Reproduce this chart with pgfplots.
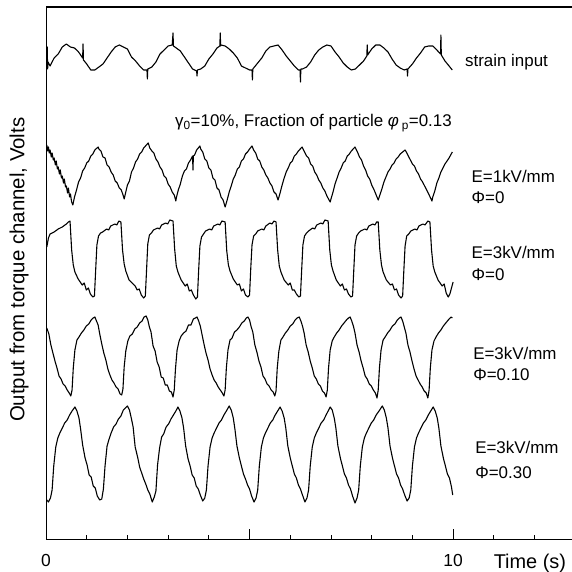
\documentclass[border=0pt]{standalone}
\usepackage{pgfplots}
\pgfplotsset{compat=1.18}
\usepackage{fontspec}
\setmainfont{Liberation Sans}
\newcommand{\fs}{\fontsize{17}{20}\selectfont}
\begin{document}
\begin{tikzpicture}
\begin{axis}[
  name=ax,
  width=526bp, height=532bp, scale only axis,
  xmin=0, xmax=12.92, ymin=-539, ymax=-7,
  axis x line=box, axis y line=left,
  axis line style={-, line width=0.9bp, black},
  xtick={0,5,10}, xticklabels={0,,10},
  minor xtick={1,2,3,4,6,7,8,9,11,12},
  xtick pos=left, xticklabel pos=left,
  tick align=inside,
  major tick length=10bp, minor tick length=4bp,
  tick style={black, line width=0.8bp},
  ytick=\empty,
  /pgf/number format/assume math mode=true,
  xticklabel style={font=\fontsize{17.5}{20}\selectfont, anchor=center, yshift=-21bp},
  every axis y label/.style={at={(axis description cs:-0.0513,0.506)}, rotate=90, anchor=center},
  ylabel={\fontsize{20.5}{24}\selectfont Output from torque channel, Volts},
  every axis x label/.style={at={(axis description cs:0.920,-0.045)}, anchor=center},
  xlabel={\fontsize{20}{24}\selectfont Time (s)},
  clip=false, no markers,
]
% strain input
\addplot[black, line width=1.1bp, line join=round] coordinates {
(0.02,-63) (0.03,-47) (0.04,-69) (0.05,-62) (0.1,-66) (0.2,-58) (0.3,-54) (0.4,-47) (0.5,-44) (0.6,-47) (0.7,-48) (0.8,-52) (0.9,-58) (0.91,-44) (0.92,-60) (1.0,-64) (1.1,-70) (1.2,-70) (1.3,-67) (1.4,-64) (1.5,-58) (1.6,-52) (1.7,-47) (1.8,-45) (1.9,-47) (2.0,-49) (2.1,-57) (2.2,-61) (2.3,-66) (2.4,-70) (2.48,-70) (2.49,-79) (2.5,-69) (2.6,-67) (2.7,-62) (2.8,-54) (2.9,-50) (3.0,-46) (3.1,-45) (3.12,-33) (3.13,-46) (3.2,-48) (3.3,-51) (3.4,-57) (3.5,-63) (3.6,-69) (3.7,-71) (3.71,-76) (3.72,-70) (3.8,-69) (3.9,-66) (4.0,-59) (4.1,-54) (4.2,-48) (4.27,-46) (4.28,-33) (4.29,-46) (4.3,-45) (4.4,-46) (4.5,-49) (4.6,-53) (4.7,-58) (4.8,-66) (4.9,-68) (5.0,-70) (5.06,-70) (5.07,-80) (5.08,-69) (5.1,-68) (5.2,-63) (5.3,-58) (5.4,-51) (5.5,-47) (5.6,-46) (5.7,-45) (5.8,-50) (5.9,-56) (6.0,-61) (6.1,-66) (6.2,-70) (6.24,-70) (6.25,-82) (6.26,-69) (6.3,-69) (6.4,-67) (6.5,-62) (6.6,-55) (6.7,-50) (6.8,-47) (6.9,-45) (7.0,-46) (7.1,-52) (7.2,-57) (7.3,-63) (7.4,-67) (7.5,-70) (7.6,-69) (7.7,-65) (7.8,-61) (7.88,-56) (7.89,-45) (7.9,-55) (8.0,-49) (8.1,-45) (8.2,-45) (8.3,-48) (8.4,-52) (8.5,-59) (8.6,-65) (8.7,-68) (8.8,-70) (8.87,-69) (8.88,-76) (8.89,-69) (9.0,-64) (9.1,-58) (9.2,-53) (9.3,-47) (9.4,-46) (9.5,-46) (9.6,-50) (9.69,-54) (9.7,-35) (9.71,-55) (9.8,-61) (9.9,-66) (9.98,-70)
};
% E=1kV/mm, Phi=0
\addplot[black, line width=1.1bp, line join=round] coordinates {
(0.02,-145) (0.04,-151) (0.06,-147) (0.08,-153) (0.1,-150) (0.13,-157) (0.15,-153) (0.18,-160) (0.2,-158) (0.23,-165) (0.25,-161) (0.28,-169) (0.3,-167) (0.33,-174) (0.35,-170) (0.38,-178) (0.4,-176) (0.43,-183) (0.45,-179) (0.48,-187) (0.5,-186) (0.53,-193) (0.55,-188) (0.58,-197) (0.6,-194) (0.63,-202) (0.66,-205) (0.7,-197) (0.75,-190) (0.8,-182) (0.85,-178) (0.9,-171) (0.95,-168) (1.0,-163) (1.05,-161) (1.1,-156) (1.15,-154) (1.2,-150) (1.28,-147) (1.3,-149) (1.35,-151) (1.4,-157) (1.45,-158) (1.5,-165) (1.55,-167) (1.6,-172) (1.65,-175) (1.7,-181) (1.75,-183) (1.8,-188) (1.85,-190) (1.9,-196) (1.92,-199) (2.0,-185) (2.05,-181) (2.1,-172) (2.15,-168) (2.2,-162) (2.25,-159) (2.3,-154) (2.35,-152) (2.4,-148) (2.51,-143) (2.55,-148) (2.6,-151) (2.65,-153) (2.7,-159) (2.75,-162) (2.8,-167) (2.85,-170) (2.9,-176) (2.95,-178) (3.0,-184) (3.05,-187) (3.1,-192) (3.15,-195) (3.19,-201) (3.2,-198) (3.25,-190) (3.3,-184) (3.35,-176) (3.4,-171) (3.45,-169) (3.5,-163) (3.55,-160) (3.6,-156) (3.61,-170) (3.62,-156) (3.65,-155) (3.7,-150) (3.78,-146) (3.8,-149) (3.85,-152) (3.9,-159) (3.95,-161) (4.0,-168) (4.05,-170) (4.1,-178) (4.15,-180) (4.2,-188) (4.25,-190) (4.3,-197) (4.35,-200) (4.4,-207) (4.45,-200) (4.5,-192) (4.55,-186) (4.6,-179) (4.65,-175) (4.7,-169) (4.75,-167) (4.8,-161) (4.85,-159) (4.9,-154) (4.95,-152) (5.0,-149) (5.06,-146) (5.1,-150) (5.15,-153) (5.2,-159) (5.25,-161) (5.3,-167) (5.35,-170) (5.4,-175) (5.45,-178) (5.5,-183) (5.55,-186) (5.6,-192) (5.65,-194) (5.7,-200) (5.75,-193) (5.8,-185) (5.85,-178) (5.9,-172) (5.95,-168) (6.0,-163) (6.05,-161) (6.1,-156) (6.15,-154) (6.2,-151) (6.29,-147) (6.35,-152) (6.4,-156) (6.45,-158) (6.5,-164) (6.55,-166) (6.6,-172) (6.65,-175) (6.7,-180) (6.75,-183) (6.8,-188) (6.85,-191) (6.9,-196) (6.98,-202) (7.0,-199) (7.05,-192) (7.1,-184) (7.15,-178) (7.2,-172) (7.25,-168) (7.3,-163) (7.35,-161) (7.4,-156) (7.45,-154) (7.5,-151) (7.59,-147) (7.65,-152) (7.7,-157) (7.75,-160) (7.8,-166) (7.85,-170) (7.9,-176) (7.95,-179) (8.0,-185) (8.05,-189) (8.1,-194) (8.16,-200) (8.2,-195) (8.25,-189) (8.3,-182) (8.35,-177) (8.4,-172) (8.45,-169) (8.5,-165) (8.55,-163) (8.6,-159) (8.65,-157) (8.7,-154) (8.82,-150) (8.85,-152) (8.9,-156) (8.95,-160) (9.0,-164) (9.05,-166) (9.1,-171) (9.15,-174) (9.2,-179) (9.25,-182) (9.3,-186) (9.35,-190) (9.4,-194) (9.48,-201) (9.5,-197) (9.55,-191) (9.6,-183) (9.65,-178) (9.7,-172) (9.75,-168) (9.8,-164) (9.85,-161) (9.9,-158) (9.98,-152)
};
% E=3kV/mm, Phi=0
\addplot[black, line width=1.1bp, line join=round] coordinates {
(0.02,-247) (0.06,-238) (0.1,-234) (0.2,-232) (0.3,-229) (0.4,-227) (0.5,-224) (0.55,-222)
(0.59,-221) (0.63,-250) (0.67,-265) (0.71,-272) (0.79,-279) (0.89,-285) (0.94,-283) (0.99,-290) (1.04,-288) (1.09,-294) (1.15,-297) (1.19,-296) (1.22,-270) (1.25,-245) (1.29,-236) (1.34,-233) (1.39,-232) (1.49,-229) (1.54,-230) (1.59,-226) (1.69,-224) (1.74,-225) (1.79,-221)
(1.84,-222) (1.88,-250) (1.92,-264) (1.96,-271) (2.04,-280) (2.14,-284) (2.19,-286) (2.24,-290) (2.29,-289) (2.34,-295) (2.40,-298) (2.44,-296) (2.47,-270) (2.50,-244) (2.54,-235) (2.59,-233) (2.64,-230) (2.74,-228) (2.79,-229) (2.84,-225) (2.94,-223) (2.99,-224) (3.04,-220)
(3.12,-221) (3.16,-249) (3.20,-266) (3.24,-272) (3.32,-280) (3.42,-286) (3.47,-284) (3.52,-291) (3.57,-290) (3.62,-295) (3.68,-299) (3.72,-297) (3.75,-270) (3.78,-246) (3.82,-237) (3.87,-234) (3.92,-231) (4.02,-229) (4.07,-230) (4.12,-226) (4.22,-224) (4.27,-225) (4.32,-221)
(4.40,-222) (4.44,-251) (4.48,-265) (4.52,-271) (4.60,-279) (4.70,-285) (4.75,-284) (4.80,-291) (4.85,-289) (4.90,-295) (4.96,-297) (5.00,-295) (5.03,-268) (5.06,-245) (5.10,-236) (5.15,-234) (5.20,-231) (5.30,-229) (5.35,-230) (5.40,-226) (5.50,-223) (5.55,-224) (5.60,-221)
(5.65,-222) (5.69,-250) (5.73,-266) (5.77,-272) (5.85,-280) (5.95,-285) (6.00,-283) (6.05,-290) (6.10,-290) (6.15,-294) (6.21,-297) (6.25,-296) (6.28,-270) (6.31,-245) (6.35,-236) (6.40,-233) (6.45,-231) (6.55,-228) (6.60,-229) (6.65,-225) (6.75,-223) (6.80,-224) (6.85,-220)
(6.93,-221) (6.97,-250) (7.01,-265) (7.05,-271) (7.13,-280) (7.23,-286) (7.28,-284) (7.33,-290) (7.38,-289) (7.43,-294) (7.49,-297) (7.53,-296) (7.56,-270) (7.59,-245) (7.63,-236) (7.68,-233) (7.73,-231) (7.83,-229) (7.88,-230) (7.93,-226) (8.03,-224) (8.08,-225) (8.12,-222)
(8.16,-222) (8.20,-250) (8.24,-265) (8.28,-272) (8.36,-280) (8.46,-285) (8.51,-284) (8.56,-290) (8.61,-289) (8.66,-295) (8.72,-298) (8.76,-296) (8.79,-270) (8.82,-246) (8.86,-236) (8.91,-234) (8.96,-231) (9.06,-229) (9.11,-230) (9.16,-226) (9.26,-224) (9.31,-225) (9.38,-221)
(9.43,-222) (9.47,-250) (9.51,-266) (9.55,-272) (9.63,-280) (9.73,-286) (9.78,-284) (9.83,-293) (9.88,-297) (9.92,-294) (9.96,-288) (10.0,-282)
};
% E=3kV/mm, Phi=0.10
\addplot[black, line width=1.1bp, line join=round] coordinates {
(0.02,-328) (0.07,-334) (0.12,-345) (0.17,-353) (0.22,-361) (0.27,-368) (0.32,-376) (0.37,-379) (0.42,-384) (0.47,-386) (0.52,-390) (0.57,-393) (0.61,-396) (0.64,-390) (0.67,-368) (0.71,-350) (0.76,-340) (0.81,-337) (0.87,-333) (0.93,-330) (0.99,-326) (1.05,-324) (1.11,-320) (1.16,-318)
(1.20,-317) (1.24,-321) (1.28,-325) (1.32,-334) (1.37,-344) (1.42,-353) (1.47,-360) (1.52,-369) (1.57,-375) (1.62,-380) (1.67,-383) (1.72,-387) (1.77,-389) (1.82,-394) (1.86,-395) (1.89,-389) (1.92,-367) (1.96,-351) (2.01,-341) (2.06,-336) (2.12,-334) (2.18,-329) (2.24,-327) (2.30,-323) (2.36,-321) (2.41,-317)
(2.46,-316) (2.50,-320) (2.54,-327) (2.58,-332) (2.63,-346) (2.68,-351) (2.73,-362) (2.78,-367) (2.83,-377) (2.88,-378) (2.93,-385) (2.98,-385) (3.03,-391) (3.08,-392) (3.12,-397) (3.15,-390) (3.18,-369) (3.22,-350) (3.27,-341) (3.32,-336) (3.38,-333) (3.44,-331) (3.50,-325) (3.56,-325) (3.62,-319) (3.67,-318)
(3.71,-317) (3.75,-321) (3.79,-326) (3.83,-334) (3.88,-344) (3.93,-353) (3.98,-360) (4.03,-369) (4.08,-375) (4.13,-380) (4.18,-383) (4.23,-387) (4.28,-390) (4.33,-393) (4.37,-396) (4.40,-390) (4.43,-368) (4.47,-350) (4.52,-340) (4.57,-338) (4.63,-332) (4.69,-330) (4.75,-327) (4.81,-323) (4.87,-321) (4.92,-318)
(4.96,-317) (5.00,-320) (5.04,-327) (5.08,-332) (5.13,-345) (5.18,-352) (5.23,-361) (5.28,-367) (5.33,-376) (5.38,-379) (5.43,-384) (5.48,-386) (5.53,-390) (5.58,-392) (5.62,-396) (5.65,-391) (5.68,-368) (5.72,-351) (5.77,-340) (5.82,-337) (5.88,-333) (5.94,-330) (6.00,-326) (6.06,-324) (6.12,-320) (6.17,-318)
(6.22,-317) (6.26,-321) (6.30,-326) (6.34,-333) (6.39,-345) (6.44,-352) (6.49,-361) (6.54,-368) (6.59,-376) (6.64,-379) (6.69,-384) (6.74,-386) (6.79,-391) (6.84,-393) (6.88,-397) (6.91,-390) (6.94,-368) (6.98,-350) (7.03,-341) (7.08,-337) (7.14,-333) (7.20,-330) (7.26,-326) (7.32,-323) (7.38,-320) (7.43,-318)
(7.47,-317) (7.51,-321) (7.55,-326) (7.59,-333) (7.64,-345) (7.69,-352) (7.74,-361) (7.79,-368) (7.84,-376) (7.89,-379) (7.94,-384) (7.99,-386) (8.04,-390) (8.09,-393) (8.13,-398) (8.16,-390) (8.19,-368) (8.23,-350) (8.28,-340) (8.33,-337) (8.39,-333) (8.45,-330) (8.51,-326) (8.57,-324) (8.63,-320) (8.68,-318)
(8.72,-317) (8.76,-321) (8.80,-327) (8.84,-333) (8.89,-345) (8.94,-352) (8.99,-361) (9.04,-369) (9.09,-376) (9.14,-380) (9.19,-384) (9.24,-387) (9.29,-391) (9.34,-393) (9.38,-398) (9.41,-390) (9.44,-368) (9.48,-350) (9.53,-341) (9.58,-337) (9.64,-333) (9.70,-330) (9.76,-326) (9.82,-323) (9.88,-320) (9.95,-317) (9.98,-318)
};
% E=3kV/mm, Phi=0.30
\addplot[black, line width=1.1bp, line join=round] coordinates {
(0.02,-500) (0.06,-502) (0.11,-498) (0.15,-490) (0.19,-466) (0.24,-447) (0.29,-438) (0.34,-433) (0.40,-428) (0.46,-423) (0.52,-420) (0.58,-415) (0.64,-411)
(0.71,-407) (0.76,-411) (0.81,-418) (0.85,-429) (0.90,-445) (0.96,-458) (1.01,-465) (1.06,-475) (1.11,-477) (1.16,-486) (1.21,-488) (1.26,-496) (1.32,-500) (1.37,-499) (1.41,-489) (1.45,-466) (1.50,-446) (1.55,-439) (1.60,-433) (1.66,-427) (1.72,-424) (1.78,-419) (1.84,-416) (1.90,-410)
(2.00,-406) (2.05,-410) (2.10,-419) (2.14,-427) (2.19,-447) (2.25,-457) (2.30,-467) (2.35,-473) (2.40,-479) (2.45,-484) (2.50,-490) (2.55,-494) (2.61,-502) (2.66,-497) (2.70,-491) (2.74,-465) (2.79,-448) (2.84,-437) (2.89,-434) (2.95,-427) (3.01,-424) (3.07,-419) (3.13,-415) (3.19,-411)
(3.24,-407) (3.29,-411) (3.34,-418) (3.38,-428) (3.43,-446) (3.49,-459) (3.54,-466) (3.59,-475) (3.64,-478) (3.69,-486) (3.74,-489) (3.79,-495) (3.85,-501) (3.90,-498) (3.94,-490) (3.98,-466) (4.03,-447) (4.08,-438) (4.13,-433) (4.19,-428) (4.25,-423) (4.31,-420) (4.37,-415) (4.43,-411)
(4.50,-406) (4.55,-410) (4.60,-418) (4.64,-429) (4.69,-446) (4.75,-458) (4.80,-466) (4.85,-474) (4.90,-479) (4.95,-485) (5.00,-489) (5.05,-496) (5.11,-502) (5.16,-498) (5.20,-490) (5.24,-466) (5.29,-447) (5.34,-438) (5.39,-433) (5.45,-428) (5.51,-423) (5.57,-420) (5.63,-415) (5.69,-411)
(5.75,-407) (5.80,-411) (5.85,-418) (5.89,-428) (5.94,-446) (6.00,-458) (6.05,-466) (6.10,-474) (6.15,-478) (6.20,-485) (6.25,-489) (6.30,-495) (6.36,-502) (6.41,-498) (6.45,-490) (6.49,-466) (6.54,-447) (6.59,-438) (6.64,-433) (6.70,-428) (6.76,-423) (6.82,-420) (6.88,-415) (6.93,-411)
(6.98,-407) (7.03,-410) (7.08,-418) (7.12,-428) (7.17,-446) (7.23,-458) (7.28,-466) (7.33,-474) (7.38,-478) (7.43,-485) (7.48,-489) (7.53,-496) (7.59,-503) (7.64,-498) (7.68,-490) (7.72,-466) (7.77,-447) (7.82,-438) (7.87,-433) (7.93,-428) (7.99,-423) (8.05,-420) (8.11,-415) (8.18,-411)
(8.26,-406) (8.31,-410) (8.36,-418) (8.40,-428) (8.45,-446) (8.51,-458) (8.56,-466) (8.61,-474) (8.66,-478) (8.71,-485) (8.76,-489) (8.81,-495) (8.87,-501) (8.92,-498) (8.96,-490) (9.00,-466) (9.05,-447) (9.10,-438) (9.15,-433) (9.21,-428) (9.27,-423) (9.33,-420) (9.39,-415) (9.45,-411)
(9.51,-407) (9.56,-411) (9.61,-418) (9.65,-428) (9.70,-446) (9.76,-458) (9.81,-466) (9.86,-474) (9.91,-478) (9.96,-487) (9.99,-495)
};
\draw[black, line width=1.2bp] (rel axis cs:0,1) -- (rel axis cs:1,1);
\node[anchor=west, inner sep=0pt, font=\fs] at (axis cs:10.29,-62) {strain input};
\node[anchor=center, inner sep=0pt, font=\fs] at (axis cs:6.57,-123) {γ\textsubscript{0}=10\%, Fraction of particle \textit{φ}\,\textsubscript{p}=0.13};
\node[anchor=west, inner sep=0pt, font=\fs] at (axis cs:10.45,-176) {E=1kV/mm};
\node[anchor=west, inner sep=0pt, font=\fs] at (axis cs:10.45,-198) {Φ=0};
\node[anchor=west, inner sep=0pt, font=\fs] at (axis cs:10.45,-252) {E=3kV/mm};
\node[anchor=west, inner sep=0pt, font=\fs] at (axis cs:10.45,-275) {Φ=0};
\node[anchor=west, inner sep=0pt, font=\fs] at (axis cs:10.49,-353) {E=3kV/mm};
\node[anchor=west, inner sep=0pt, font=\fs] at (axis cs:10.49,-375) {Φ=0.10};
\node[anchor=west, inner sep=0pt, font=\fs] at (axis cs:10.54,-447) {E=3kV/mm};
\node[anchor=west, inner sep=0pt, font=\fs] at (axis cs:10.54,-473) {Φ=0.30};
\end{axis}
\pgfresetboundingbox
\path[use as bounding box] ([shift={(-46bp,-33bp)}]ax.south west) rectangle ([shift={(0bp,7bp)}]ax.north east);
\end{tikzpicture}
\end{document}
